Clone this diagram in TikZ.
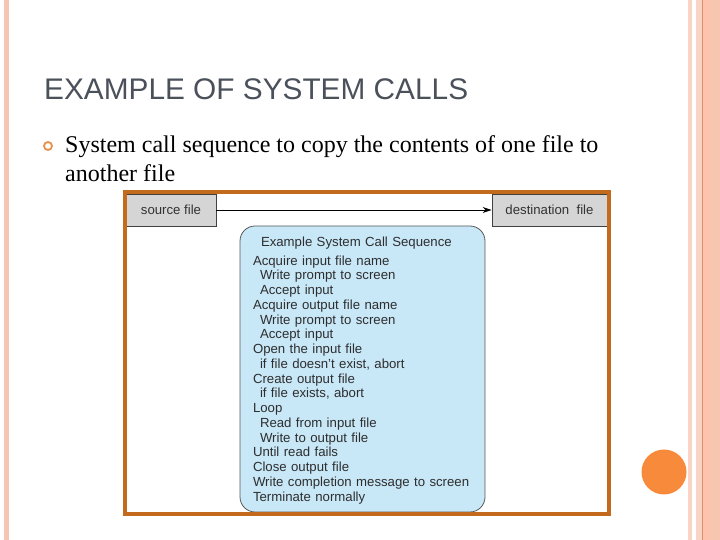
\documentclass[tikz,border=0pt]{standalone}
\usepackage{fontspec}
\setmainfont{Liberation Serif}
\setsansfont{Liberation Sans}
\usepackage{xcolor}
\usepackage{tikz}
\usetikzlibrary{positioning,arrows.meta,calc}
\definecolor{sldP1}{HTML}{F6C6B2}
\definecolor{sldP2}{HTML}{F9D3C3}
\definecolor{sldP3}{HTML}{FDC3AC}
\definecolor{sldP4}{HTML}{D9906E}
\definecolor{sldO1}{HTML}{F88A3C}
\definecolor{sldO2}{HTML}{C46A1C}
\definecolor{sldO3}{HTML}{E8914B}
\definecolor{sldG1}{HTML}{4B515B}
\definecolor{sldG2}{HTML}{D5D5D5}
\definecolor{sldB1}{HTML}{C8E7F7}
\newcommand{\stepind}{\hspace*{7pt}}

\begin{document}
\begin{tikzpicture}[x=1pt, y=1pt,
  every node/.style={font=\sffamily},
  filebox/.style={rectangle, draw=black!75, line width=0.8pt, fill=sldG2,
                  minimum height=32pt, inner sep=0pt, text=black!80,
                  font=\sffamily\fontsize{13.2}{15}\selectfont},
  seqbox/.style={rectangle, rounded corners=15pt, draw=black!65, line width=0.8pt,
                 fill=sldB1, minimum width=245pt, minimum height=286pt,
                 inner xsep=13pt, text width=219pt, align=left, text=black!82,
                 font=\sffamily\fontsize{13.2}{14.75}\selectfont},
  frame/.style={rectangle, draw=sldO2, line width=4pt, minimum width=484pt,
                minimum height=322pt, inner sep=0pt},
  flow/.style={-{Stealth[length=9pt, width=6pt]}, line width=0.9pt, black}
]
  \useasboundingbox (0,0) rectangle (720,540);
  % slide decoration
  \fill[sldP1] (3.5,0) rectangle (8.5,540);
  \fill[sldP2] (688,0) rectangle (692,540);
  \fill[sldP2] (696,0) rectangle (702,540);
  \fill[sldP4] (702,0) rectangle (703,540);
  \fill[sldP3] (703,0) rectangle (710,540);
  \fill[sldP1!90!sldP3] (710,0) rectangle (720,540);
  \node[circle, fill=sldO1, minimum size=45pt, inner sep=0pt] (dot) at (664,68) {};

  % heading and bullet
  \node[anchor=base west, inner sep=0pt, text=sldG1,
        font=\sffamily\fontsize{29.8}{34}\selectfont] (title) at (44,440) {EXAMPLE OF SYSTEM CALLS};
  \node[circle, draw=sldO3, line width=1.8pt, minimum size=8pt, inner sep=0pt] (bullet) at (48,394) {};
  \node[anchor=base west, inner sep=0pt, align=left,
        font=\rmfamily\fontsize{24}{29}\selectfont] (intro) at (65,358)
        {System call sequence to copy the contents of one file to\\another file};

  % figure
  \node[filebox, minimum width=90pt]  (src) at (171,330)   {source file};
  \node[filebox, minimum width=115pt] (dst) at (549.5,330) {destination\ \ file};
  \draw[flow] (src) -- (dst);
  \node[seqbox] (seq) at (362.5,171) {\rule{0pt}{12pt}\hspace*{8pt}Example System Call Sequence\\[4.25pt]
    Acquire input file name\\
    \stepind Write prompt to screen\\
    \stepind Accept input\\
    Acquire output file name\\
    \stepind Write prompt to screen\\
    \stepind Accept input\\
    Open the input file\\
    \stepind if file doesn't exist, abort\\
    Create output file\\
    \stepind if file exists, abort\\
    Loop\\
    \stepind Read from input file\\
    \stepind Write to output file\\
    Until read fails\\
    Close output file\\
    Write completion message to screen\\
    Terminate normally};
  \node[frame] (frame) at (367,187) {};
  \draw[white, line width=1pt] ($(frame.north east)+(0,-2)$) -- ($(frame.south east)+(0,2)$);
\end{tikzpicture}
\end{document}
